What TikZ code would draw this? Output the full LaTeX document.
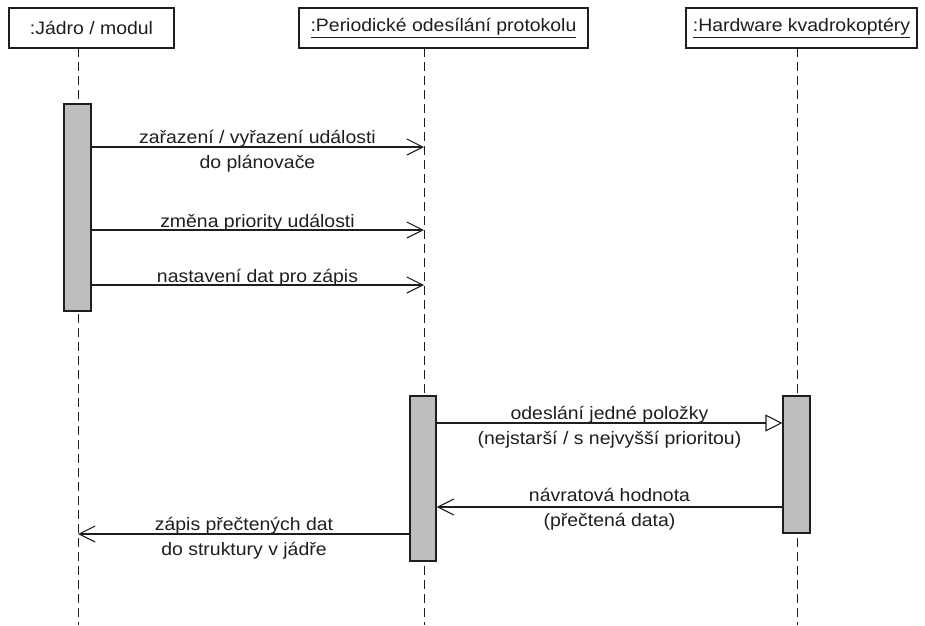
\documentclass[tikz,border=0pt]{standalone}
\usepackage{fontspec}
\setmainfont{Liberation Sans}[FakeStretch=1.08]
\usetikzlibrary{arrows.meta}

\definecolor{ink}{RGB}{30,30,30}
\definecolor{actgray}{RGB}{190,190,190}

\tikzset{
  obj/.style={draw=ink, line width=1.2pt, minimum height=40pt, inner sep=0pt, text=ink},
  life/.style={draw=ink, line width=1pt, dash pattern=on 9pt off 5pt},
  act/.style={draw=ink, fill=actgray, line width=1.2pt, minimum width=27pt, inner sep=0pt},
  msg/.style={draw=ink, line width=1.1pt, -{Straight Barb[length=16pt,width=16pt,line width=1.1pt]}},
  sig/.style={draw=ink, line width=1.1pt, -{Triangle[open,length=17pt,width=17pt,line width=1.1pt,fill=white]}},
  lbl/.style={text=ink, inner sep=0pt, align=center, anchor=base}
}

\begin{document}
\begin{tikzpicture}[x=1pt, y=-1pt, font=\fontsize{18}{25}\selectfont]
\useasboundingbox (0,0) rectangle (925,625);

% objects
\node[obj, minimum width=165pt] (jadro) at (91.5,28) {:Jádro / modul};
\node[obj, minimum width=289pt] (perio) at (443.5,28) {\underline{:Periodické odesílání protokolu}};
\node[obj, minimum width=231pt] (hw) at (801.5,28) {\underline{:Hardware kvadrokoptéry}};

% lifelines
\coordinate (l1) at (78,48);
\coordinate (l2) at (424,48);
\coordinate (l3) at (797,48);
\coordinate (l1end) at (78,625);
\coordinate (l2end) at (424,625);
\coordinate (l3end) at (797,625);
\draw[life] (l1) -- (l1end);
\draw[life] (l2) -- (l2end);
\draw[life] (l3) -- (l3end);

% activations
\node[act, minimum height=207pt] (actjadro) at (77.5,207.5) {};
\node[act, minimum height=165pt, minimum width=26pt] (actperio) at (423,478.5) {};
\node[act, minimum height=137pt] (acthw) at (796.5,464.5) {};

% messages
\draw[msg] (actjadro.east |- 0,147) -- (l2 |- 0,147);
\draw[msg] (actjadro.east |- 0,230) -- (l2 |- 0,230);
\draw[msg] (actjadro.east |- 0,285) -- (l2 |- 0,285);
\draw[sig] (actperio.east |- 0,423) -- (acthw.west |- 0,423);
\draw[msg] (acthw.west |- 0,507) -- (actperio.east |- 0,507);
\draw[msg] (actperio.west |- 0,534) -- (l1 |- 0,534);

% labels (base = last line)
\node[lbl] (zarazeni) at (257.5,168) {zařazení / vyřazení události\\do plánovače};
\node[lbl] (zmena) at (257.5,227) {změna priority události};
\node[lbl] (nastaveni) at (257.5,282) {nastavení dat pro zápis};
\node[lbl] (odeslani) at (609.5,444) {odeslání jedné položky\\(nejstarší / s nejvyšší prioritou)};
\node[lbl] (navrat) at (609.5,526) {návratová hodnota\\(přečtená data)};
\node[lbl] (zapis) at (244,555) {zápis přečtených dat\\do struktury v jádře};

\end{tikzpicture}
\end{document}
